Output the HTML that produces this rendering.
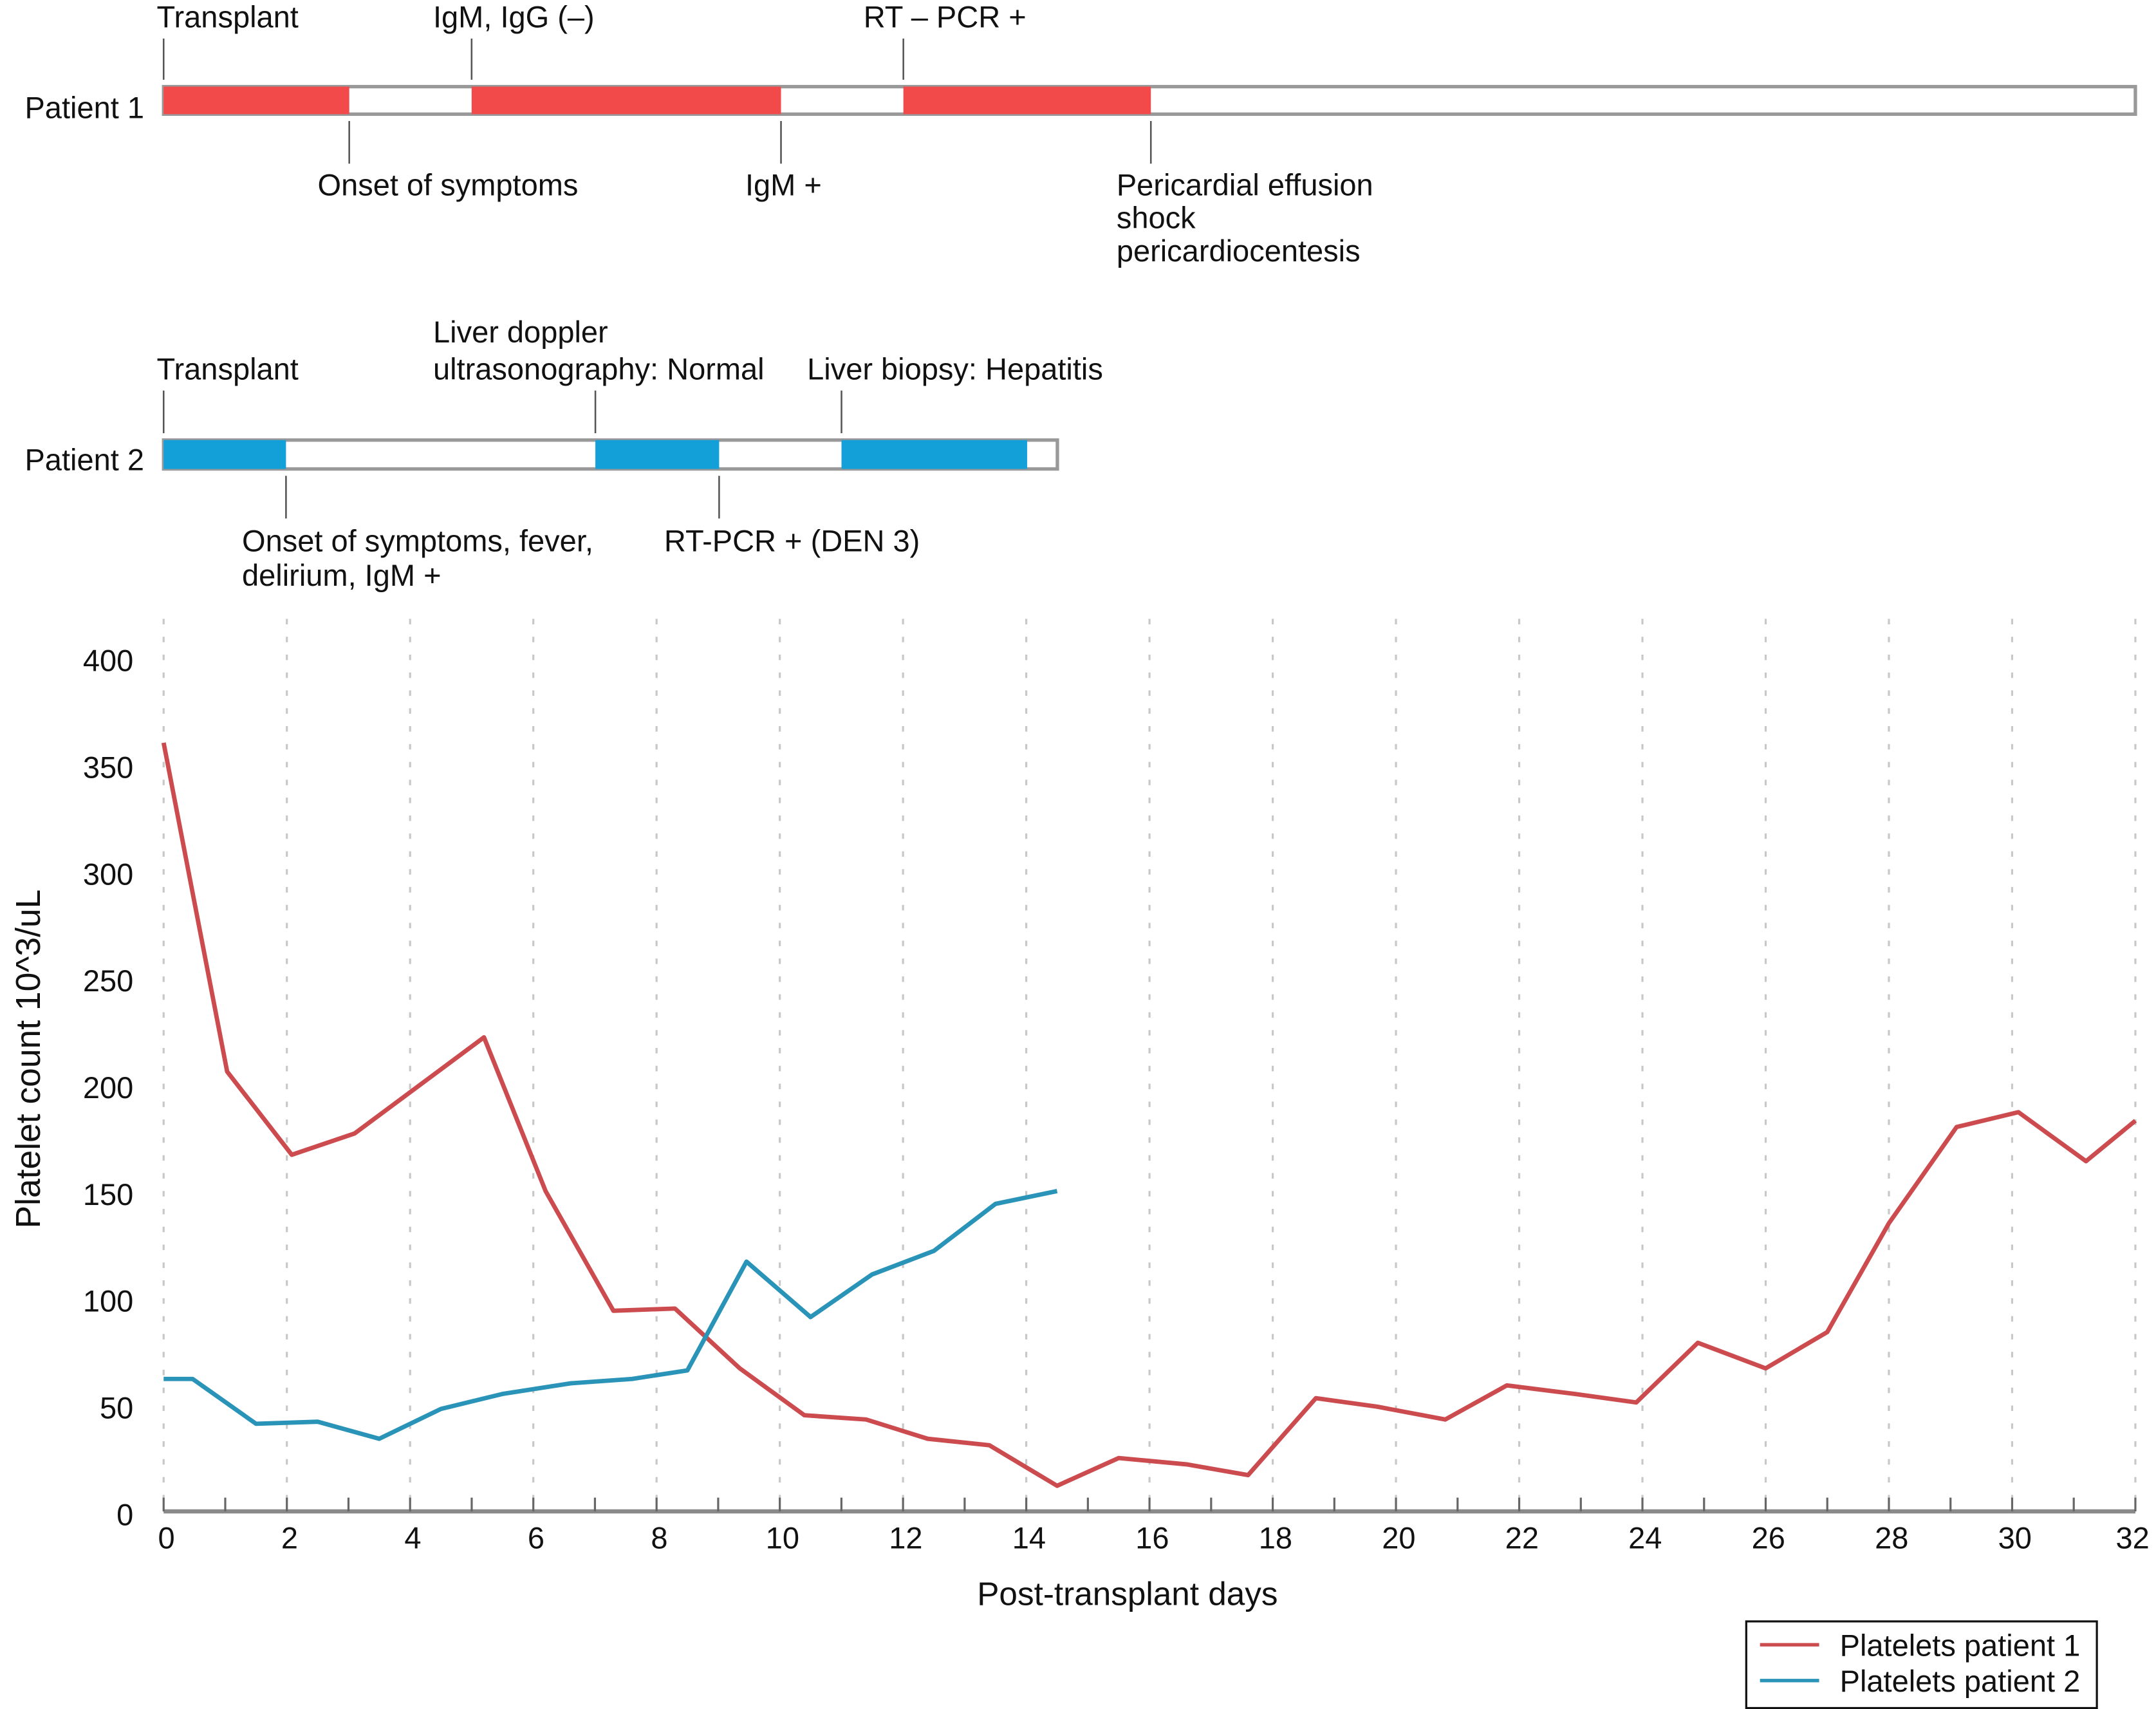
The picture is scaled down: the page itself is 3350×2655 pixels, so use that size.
<!DOCTYPE html>
<html><head><meta charset="utf-8"><style>
html,body{margin:0;padding:0;background:#fff}
svg{display:block}
text{font-family:"Liberation Sans",sans-serif;fill:#111}
</style></head><body>
<svg id="chart" xmlns="http://www.w3.org/2000/svg" width="3350" height="2655" viewBox="0 0 1568 1242.7">
<g>
  <text x="18" y="86" font-size="22">Patient 1</text>
  <rect x="119" y="63" width="1434" height="20" fill="#fff" stroke="#999" stroke-width="2.5"/>
  <rect x="119" y="63" width="135" height="20" fill="#f24a4a"/>
  <rect x="343" y="63" width="225" height="20" fill="#f24a4a"/>
  <rect x="657" y="63" width="180" height="20" fill="#f24a4a"/>
  <g stroke="#555" stroke-width="1.2">
    <line x1="119" y1="28" x2="119" y2="58"/><line x1="343" y1="28" x2="343" y2="58"/><line x1="657" y1="28" x2="657" y2="58"/>
    <line x1="254" y1="88" x2="254" y2="119"/><line x1="568" y1="88" x2="568" y2="119"/><line x1="837" y1="88" x2="837" y2="119"/>
  </g>
  <text x="114" y="20" font-size="22">Transplant</text>
  <text x="315" y="20" font-size="22">IgM, IgG (–)</text>
  <text x="628" y="20" font-size="22">RT – PCR +</text>
  <text x="231" y="142" font-size="22">Onset of symptoms</text>
  <text x="542" y="142" font-size="22">IgM +</text>
  <text x="812" y="142" font-size="22">Pericardial effusion</text>
  <text x="812" y="166" font-size="22">shock</text>
  <text x="812" y="190" font-size="22">pericardiocentesis</text>
</g>
<g>
  <text x="18" y="342" font-size="22">Patient 2</text>
  <rect x="119" y="320" width="650" height="21" fill="#fff" stroke="#999" stroke-width="2.5"/>
  <rect x="119" y="320" width="89" height="21" fill="#139fd8"/>
  <rect x="433" y="320" width="90" height="21" fill="#139fd8"/>
  <rect x="612" y="320" width="135" height="21" fill="#139fd8"/>
  <g stroke="#555" stroke-width="1.2">
    <line x1="119" y1="284" x2="119" y2="315"/><line x1="433" y1="284" x2="433" y2="315"/><line x1="612" y1="284" x2="612" y2="315"/>
    <line x1="208" y1="346" x2="208" y2="377"/><line x1="523" y1="346" x2="523" y2="377"/>
  </g>
  <text x="114" y="276" font-size="22">Transplant</text>
  <text x="315" y="249" font-size="22">Liver doppler</text>
  <text x="315" y="276" font-size="22">ultrasonography: Normal</text>
  <text x="587" y="276" font-size="22">Liver biopsy: Hepatitis</text>
  <text x="176" y="401" font-size="22">Onset of symptoms, fever,</text>
  <text x="176" y="426" font-size="22">delirium, IgM +</text>
  <text x="483" y="401" font-size="22">RT-PCR + (DEN 3)</text>
</g>
<g id="plot"></g>
<g>
  <rect x="1270" y="1179" width="255" height="63" fill="#fff" stroke="#111" stroke-width="1.5"/>
  <line x1="1280" y1="1196" x2="1323" y2="1196" stroke="#cc4b4f" stroke-width="2.5"/>
  <text x="1338" y="1204" font-size="22">Platelets patient 1</text>
  <line x1="1280" y1="1222" x2="1323" y2="1222" stroke="#2a93b8" stroke-width="2.5"/>
  <text x="1338" y="1230" font-size="22">Platelets patient 2</text>
</g>
</svg>
<script>
const yTicks = [0, 50, 100, 150, 200, 250, 300, 350, 400];
const xTicks = [0, 2, 4, 6, 8, 10, 12, 14, 16, 18, 20, 22, 24, 26, 28, 30, 32];
const p1Days = [0, 1.03, 2.08, 3.1, 5.2, 6.2, 7.3, 8.3, 9.35, 10.4, 11.4, 12.4, 13.4, 14.5, 15.5, 16.6, 17.6, 18.7, 19.7, 20.8, 21.8, 22.9, 23.9, 24.9, 26, 27, 28, 29.1, 30.1, 31.2, 32];
const p1Values = [360, 206, 167, 177, 222, 150, 94, 95, 67, 45, 43, 34, 31, 12, 25, 22, 17, 53, 49, 43, 59, 55, 51, 79, 67, 84, 135, 180, 187, 164, 183];
const p2Days = [0, 0.47, 1.5, 2.5, 3.5, 4.5, 5.5, 6.6, 7.6, 8.5, 9.46, 10.5, 11.5, 12.5, 13.5, 14.5];
const p2Values = [62, 62, 41, 42, 34, 48, 55, 60, 62, 66, 117, 91, 111, 122, 144, 150];

const NS = 'http://www.w3.org/2000/svg';
const g = document.getElementById('plot');
const X0 = 119, X1 = 1553, Y0 = 1099, YTOP = 478;
const xs = d => X0 + (d / 32) * (X1 - X0);
const ys = v => Y0 - (v / 400) * (Y0 - YTOP);
function mk(tag, attrs, parent) {
  const e = document.createElementNS(NS, tag);
  for (const k in attrs) e.setAttribute(k, attrs[k]);
  (parent || g).appendChild(e);
  return e;
}
xTicks.forEach(d => {
  const l = mk('line', {x1: xs(d), x2: xs(d), y1: 450, y2: Y0, stroke: '#c8c8c8', 'stroke-width': 1.5, 'stroke-dasharray': '4 9'});
  
  
});
const ax = mk('line', {x1: X0, x2: X1, y1: Y0, y2: Y0, stroke: '#8a8a8a', 'stroke-width': 3});


for (let d = 0; d <= 32; d++) {
  const t = mk('line', {x1: xs(d), x2: xs(d), y1: Y0 - 10, y2: Y0, stroke: '#666', 'stroke-width': 1.5});
  
  
}
xTicks.forEach(d => {
  const t = mk('text', {x: xs(d) + (d === 32 ? -2 : 2), y: Y0 + 27, 'font-size': 22, 'text-anchor': 'middle'});
  t.textContent = d;
  
  
});
yTicks.forEach(v => {
  const t = mk('text', {x: 97, y: ys(v) + 10, 'font-size': 22, 'text-anchor': 'end'});
  t.textContent = v;
  
  
});
const xt = mk('text', {x: 820, y: 1167, 'font-size': 24, 'text-anchor': 'middle'});
xt.textContent = 'Post-transplant days';


const yt = mk('text', {x: 0, y: 0, 'font-size': 25, 'text-anchor': 'middle', transform: 'translate(29,770) rotate(-90)'});
yt.textContent = 'Platelet count 10^3/uL';


function series(days, vals, color, name) {
  const pts = days.map((d, i) => xs(d).toFixed(1) + ',' + ys(vals[i]).toFixed(1)).join(' ');
  const p = mk('polyline', {points: pts, fill: 'none', stroke: color, 'stroke-width': 3.2, 'stroke-linejoin': 'round'});
  
  
}
series(p1Days, p1Values, '#cc4b4f', 'platelets-patient-1-line');
series(p2Days, p2Values, '#2a93b8', 'platelets-patient-2-line');
</script>
</body></html>
